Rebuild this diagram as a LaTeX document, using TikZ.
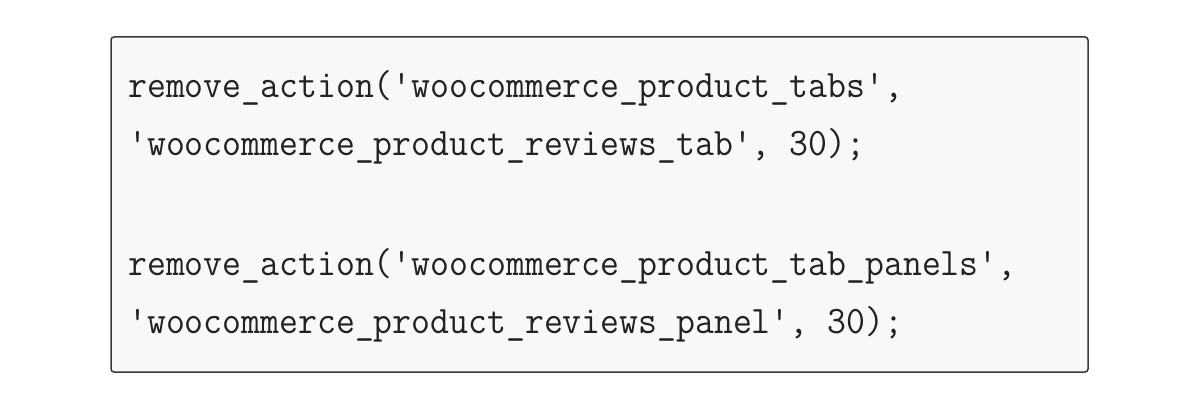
\documentclass[tikz,border=0pt]{standalone}
\usepackage{fontspec}
\definecolor{boxfill}{HTML}{F7F8FA}
\definecolor{boxline}{HTML}{3A3A3A}
\definecolor{codetext}{HTML}{222222}
\begin{document}
\begin{tikzpicture}[x=1pt,y=1pt,
  codebox/.style={draw=boxline,line width=1.5pt,fill=boxfill,rounded corners=3pt,minimum width=977pt,minimum height=335pt,inner sep=0pt},
  codeline/.style={anchor=base west,inner sep=0pt,text=codetext,font=\ttfamily\addfontfeature{FakeBold=0.6}\fontsize{36.7}{40}\selectfont,yscale=1.06,transform shape}]
\useasboundingbox (0,0) rectangle (1200,400);
\fill[white] (0,0) rectangle (1200,400);
\node[codebox] (box) at (599.5,195.5) {};
\node[codeline] (l1) at (128,303) {remove\_action('woocommerce\_product\_tabs',};
\node[codeline] (l2) at (128,245) {'woocommerce\_product\_reviews\_tab', 30);};
\node[codeline] (l3) at (128,125) {remove\_action('woocommerce\_product\_tab\_panels',};
\node[codeline] (l4) at (128,67) {'woocommerce\_product\_reviews\_panel', 30);};
\end{tikzpicture}
\end{document}
